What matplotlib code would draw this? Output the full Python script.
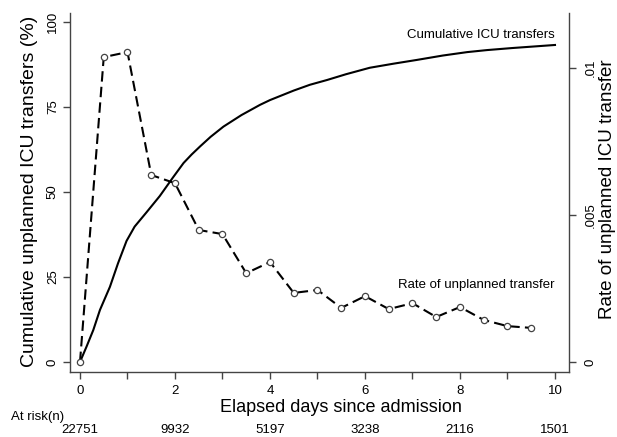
import numpy as np
import matplotlib.pyplot as plt
from matplotlib.transforms import blended_transform_factory

plt.rcParams['font.family'] = ['Liberation Sans', 'DejaVu Sans']

# cumulative unplanned ICU transfers (%)
cum_days = [0, 0.14, 0.28, 0.42, 0.63, 0.80, 0.98, 1.15, 1.40, 1.68, 1.96,
            2.18, 2.35, 2.53, 2.75, 3.02, 3.4, 3.79, 4.0, 4.5, 4.84, 5.2,
            5.6, 6.1, 6.6, 7.09, 7.64, 8.15, 8.57, 9.1, 9.6, 10.0]
cum_pct = [0, 4.6, 9.4, 15.3, 22.1, 29.0, 35.6, 39.8, 44.0, 48.8, 54.3,
           58.5, 61.0, 63.4, 66.2, 69.2, 72.6, 75.6, 77.0, 79.8, 81.5, 82.9,
           84.6, 86.5, 87.7, 88.8, 90.1, 91.1, 91.7, 92.3, 92.8, 93.2]

# rate of unplanned transfer per half day
rate_days = [0, 0.5, 1, 1.5, 2, 2.5, 3, 3.5, 4, 4.5, 5, 5.5, 6, 6.5, 7, 7.5,
             8, 8.5, 9, 9.5]
rate_vals = [0, 0.01037, 0.01054, 0.00636, 0.00608, 0.00449, 0.00435, 0.00302,
             0.00340, 0.00235, 0.00245, 0.00184, 0.00224, 0.00180, 0.00200,
             0.00153, 0.00187, 0.00143, 0.00122, 0.00116]

risk_days = [0, 2, 4, 6, 8, 10]
risk_n = [22751, 9932, 5197, 3238, 2116, 1501]

fig = plt.figure(figsize=(6.17, 4.37), dpi=100)
ax = fig.add_axes([70/617, 1 - 372/437, (569 - 70)/617, (372 - 13)/437])
ax2 = ax.twinx()

spine_col = '#444444'
for a in (ax, ax2):
    a.spines['top'].set_visible(False)
    for s in a.spines.values():
        s.set_color(spine_col)
        s.set_linewidth(1.0)
ax.spines['right'].set_visible(False)
ax2.spines['left'].set_visible(False)
ax2.spines['bottom'].set_visible(False)

ax.plot(cum_days, cum_pct, color='black', lw=1.5, zorder=3)
ax2.plot(rate_days, rate_vals, color='black', lw=1.5, dashes=(5, 2.5),
         marker='o', ms=4.5, mfc='white', mec='#444444', mew=0.9, zorder=3)

ax.set_xlim(-0.2105, 10.295)
ax.set_ylim(-2.94, 102.6)
ax2.set_ylim(-0.00034, 0.01187)

ax.set_xticks([0, 2, 4, 6, 8, 10])
ax.set_xticks([1, 3, 5, 7, 9], minor=True)
ax.set_yticks([0, 25, 50, 75, 100])
ax2.set_yticks([0, 0.005, 0.01])
ax2.set_yticklabels(['0', '.005', '.01'])

ax.tick_params(axis='x', which='both', length=5, width=1, color=spine_col,
               labelsize=9.5, pad=4)
ax.tick_params(axis='y', length=5, width=1, color=spine_col, labelsize=9.5,
               pad=3, labelrotation=90)
for lab in ax.get_yticklabels():
    lab.set_va('center')
ax2.tick_params(axis='y', length=5, width=1, color=spine_col, labelsize=9.5,
                pad=6, labelrotation=90)
for lab in ax2.get_yticklabels():
    lab.set_va('center')

fig.text(30/617, 1 - 191/437, 'Cumulative unplanned ICU transfers (%)',
         rotation=90, ha='center', va='center', fontsize=14)
fig.text(607/617, 1 - 189/437, 'Rate of unplanned ICU transfer',
         rotation=90, ha='center', va='center', fontsize=13.5)
fig.text(341/617, 1 - 407/437, 'Elapsed days since admission',
         ha='center', va='center', fontsize=13)

ax.text(10, 96.2, 'Cumulative ICU transfers', ha='right', va='center',
        fontsize=9.5)
ax.text(10, 22.6, 'Rate of unplanned transfer', ha='right', va='center',
        fontsize=9.5)

# at-risk table under the axis
trans = blended_transform_factory(ax.transData, fig.transFigure)
fig.text(11/617, 1 - 417/437, 'At risk(n)', ha='left', va='center',
         fontsize=9.5)
for d, n in zip(risk_days, risk_n):
    ax.text(d, 1 - 430/437, str(n), transform=trans, ha='center',
            va='center', fontsize=9.5)

fig.savefig('out.png', dpi=100)
